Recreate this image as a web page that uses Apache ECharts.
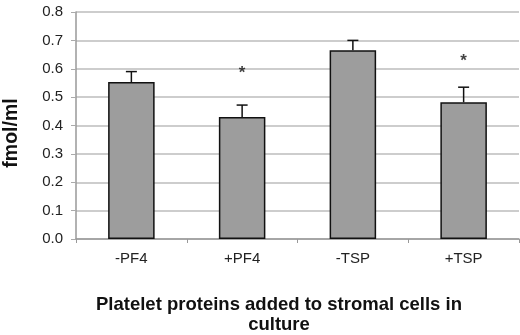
<!DOCTYPE html>
<html>
<head>
<meta charset="utf-8">
<script src="https://cdn.jsdelivr.net/npm/echarts@6/dist/echarts.min.js"></script>
<style>
  html, body { margin: 0; padding: 0; background: #fff; }
  #main { width: 520px; height: 335px; }
</style>
</head>
<body>
<div id="main"></div>
<script>
// chart data
const categories = ['-PF4', '+PF4', '-TSP', '+TSP'];
const meanValues = [0.553, 0.43, 0.665, 0.482];
const errorTops = [0.59, 0.472, 0.70, 0.535];
const starValues = [null, 0.585, null, 0.625];

const chart = echarts.init(document.getElementById('main'), null, { renderer: 'canvas' });
const font = '"Liberation Sans", Arial, sans-serif';

const option = {
  backgroundColor: '#fff',
  animation: false,
  grid: { left: 76, right: 1, top: 12, bottom: 96 },
  xAxis: {
    type: 'category',
    data: categories,
    axisLine: { lineStyle: { color: '#999', width: 1.5 } },
    axisTick: { show: true, length: 4, lineStyle: { color: '#999' } },
    axisLabel: { color: '#222', fontFamily: font, fontSize: 15, margin: 12 }
  },
  yAxis: {
    type: 'value',
    min: 0,
    max: 0.8,
    interval: 0.1,
    axisLine: { show: true, lineStyle: { color: '#999', width: 1.5 } },
    axisTick: { show: true, length: 5, lineStyle: { color: '#aaa' } },
    splitLine: { lineStyle: { color: '#bdbdbd', width: 1.5 } },
    axisLabel: {
      color: '#222', fontFamily: font, fontSize: 15, margin: 13,
      formatter: v => v.toFixed(1)
    }
  },
  graphic: [
    {
      // y axis title
      type: 'text',
      x: 12, y: 133,
      rotation: Math.PI / 2,
      style: {
        text: 'fmol/ml',
        align: 'center',
        verticalAlign: 'middle',
        fill: '#111',
        font: 'bold 19.5px ' + font
      }
    },
    {
      // x axis title
      type: 'text',
      x: 279, y: 315,
      style: {
        text: 'Platelet proteins added to stromal cells in\nculture',
        align: 'center',
        verticalAlign: 'middle',
        fill: '#111',
        font: 'bold 18.5px ' + font,
        lineHeight: 20
      }
    }
  ],
  series: [
    {
      type: 'bar',
      data: meanValues,
      barWidth: '42%',
      itemStyle: { color: '#9d9d9d', borderColor: '#111', borderWidth: 1.5 },
      z: 2
    },
    {
      type: 'custom',
      data: meanValues.map((v, i) => [i, v, errorTops[i]]),
      renderItem: function (params, api) {
        const base = api.coord([api.value(0), api.value(1)]);
        const top = api.coord([api.value(0), api.value(2)]);
        const half = 5.5;
        return {
          type: 'group',
          children: [
            { type: 'line', shape: { x1: base[0], y1: base[1], x2: top[0], y2: top[1] },
              style: { stroke: '#111', lineWidth: 1.5 } },
            { type: 'line', shape: { x1: top[0] - half, y1: top[1], x2: top[0] + half, y2: top[1] },
              style: { stroke: '#111', lineWidth: 1.5 } }
          ]
        };
      },
      z: 3
    },
    {
      type: 'scatter',
      data: starValues.map((v, i) => (v == null ? null : [i, v])),
      symbolSize: 0,
      label: {
        show: true,
        position: 'inside',
        formatter: '*',
        color: '#111',
        fontFamily: font,
        fontSize: 17,
        fontWeight: 'bold'
      },
      z: 4
    }
  ]
};

chart.setOption(option);
</script>
</body>
</html>
